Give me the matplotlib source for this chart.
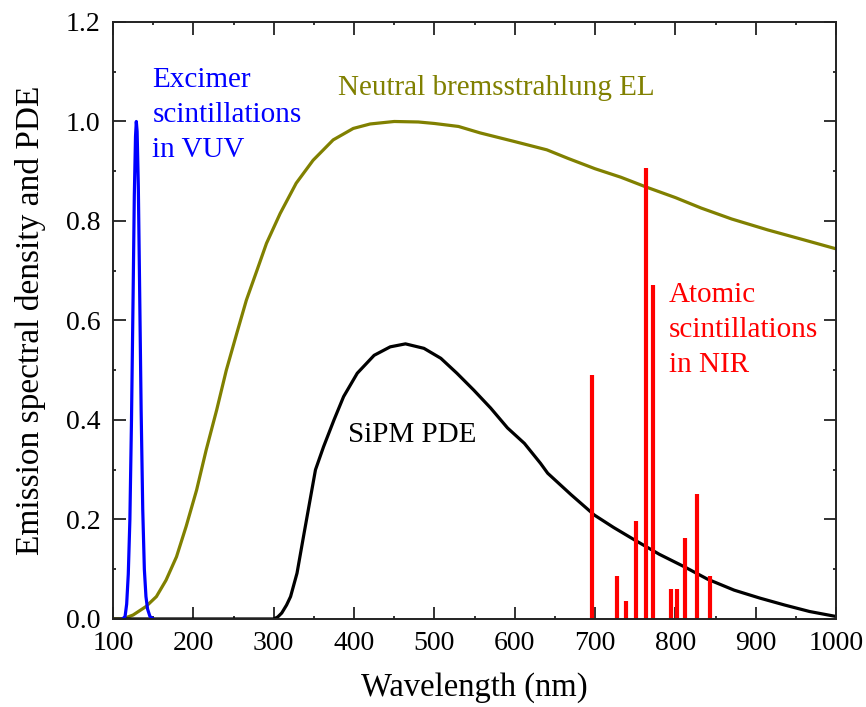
import numpy as np
import matplotlib.pyplot as plt
from matplotlib.ticker import MultipleLocator

plt.rcParams['font.family'] = ['Liberation Serif', 'DejaVu Serif']

# neutral bremsstrahlung EL spectrum (olive)
nbrs_wl = [100, 112, 125, 141, 154, 166, 179, 191, 204, 216, 229, 241, 254,
           266, 279, 291, 308, 328, 349, 374, 399, 420, 450, 480, 500, 530,
           557, 599, 640, 666, 700, 732, 764, 800, 832, 870, 915, 960, 1000]
nbrs_val = [0.0, 0.0, 0.008, 0.025, 0.045, 0.078, 0.125, 0.186, 0.259, 0.34,
            0.42, 0.50, 0.574, 0.641, 0.70, 0.755, 0.815, 0.876, 0.922,
            0.963, 0.986, 0.995, 1.0, 0.999, 0.996, 0.99, 0.977, 0.96, 0.943,
            0.926, 0.905, 0.888, 0.868, 0.847, 0.826, 0.804, 0.782, 0.762,
            0.744]

# SiPM photon detection efficiency (black)
pde_wl = [100, 300, 305, 310, 316, 321, 329, 337, 346, 352, 362, 375, 387,
          404, 425, 445, 464, 487, 508, 528, 549, 570, 591, 612, 632, 641,
          670, 699, 723, 749, 780, 811, 840, 873, 905, 936, 967, 1000]
pde_val = [0.0, 0.0, 0.004, 0.012, 0.028, 0.045, 0.092, 0.165, 0.246, 0.30,
           0.346, 0.40, 0.447, 0.494, 0.53, 0.547, 0.553, 0.544, 0.524,
           0.494, 0.46, 0.424, 0.384, 0.353, 0.313, 0.293, 0.25, 0.209,
           0.184, 0.159, 0.13, 0.105, 0.08, 0.058, 0.042, 0.028, 0.015, 0.005]

# excimer VUV emission (blue)
vuv_wl = [112, 115, 117, 119, 121, 123, 125, 126.5, 128, 129, 130, 131.5,
          133, 135, 137, 139, 141, 143, 146, 150]
vuv_val = [0.0, 0.005, 0.03, 0.09, 0.2, 0.4, 0.65, 0.85, 0.97, 1.0, 0.98,
           0.87, 0.68, 0.42, 0.22, 0.1, 0.045, 0.02, 0.005, 0.0]

# atomic NIR lines (red)
nir_wl = [696.5, 727.3, 738.4, 751.5, 763.5, 772.4, 794.8, 801.5, 811.5,
          826.5, 842.5]
nir_val = [0.49, 0.087, 0.037, 0.197, 0.907, 0.671, 0.06, 0.06, 0.163,
           0.251, 0.087]

olive = '#808000'

fig = plt.figure(figsize=(8.66, 7.07), dpi=100)
ax = fig.add_axes([0.1305, 0.1245, 0.835, 0.8444])

ax.plot(nbrs_wl, nbrs_val, color=olive, lw=2.3)
ax.plot(pde_wl, pde_val, color='black', lw=2.3)
ax.plot(vuv_wl, vuv_val, color='#0000ff', lw=2.3)
ax.vlines(nir_wl, 0, nir_val, color='#ff0000', lw=3)

ax.set_xlim(100, 1000)
ax.set_ylim(0, 1.2)
ax.xaxis.set_major_locator(MultipleLocator(100))
ax.xaxis.set_minor_locator(MultipleLocator(50))
ax.yaxis.set_major_locator(MultipleLocator(0.2))
ax.yaxis.set_minor_locator(MultipleLocator(0.1))
ax.yaxis.set_major_formatter(plt.FuncFormatter(lambda v, p: f'{v:.1f}'))

ax.tick_params(which='both', direction='in', top=True, right=True,
               labelsize=20, width=1.3, color='#222222')
ax.tick_params(which='major', length=9, pad=9)
ax.tick_params(which='minor', length=2)
for s in ax.spines.values():
    s.set_linewidth(1.4)
    s.set_color('#222222')

ax.set_xlabel('Wavelength (nm)', fontsize=23.5, labelpad=11)
ax.set_ylabel('Emission spectral density and PDE', fontsize=24)
ax.yaxis.set_label_coords(-0.092, 0.5)

ax.text(149, 1.013, 'Excimer\nscintillations\nin VUV', color='#0000ff',
        fontsize=21, va='center', ha='left', linespacing=1.45)
ax.text(380, 1.067, 'Neutral bremsstrahlung EL', color=olive, fontsize=21,
        va='center', ha='left')
ax.text(792, 0.581, 'Atomic\nscintillations\nin NIR', color='#ff0000',
        fontsize=21, va='center', ha='left', linespacing=1.45)
ax.text(392, 0.37, 'SiPM PDE', color='black', fontsize=21, va='center',
        ha='left')

fig.savefig('out.png', dpi=100)
